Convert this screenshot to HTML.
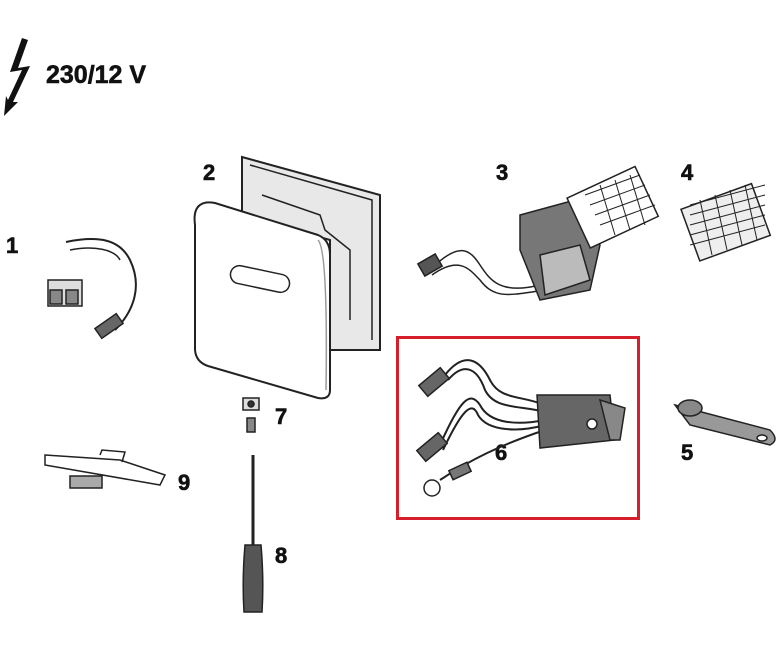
<!DOCTYPE html>
<html><head><style>
html,body{margin:0;padding:0;background:#fff}
svg{display:block}
text{font-family:"Liberation Sans",sans-serif;font-weight:bold;fill:#111}
</style></head><body>
<svg width="780" height="650" viewBox="0 0 780 650" xmlns="http://www.w3.org/2000/svg">
<polygon points="22,38 10,72 22,70 8,100 6,96 4,116 18,102 13,102 30,66 18,68 28,40" fill="#111"/>
<text x="46" y="83" font-size="25" stroke="#111" stroke-width="0.6">230/12 V</text>
<g stroke="#111" stroke-width="0.6">
<text x="6" y="253" font-size="22">1</text>
<text x="203" y="180" font-size="22">2</text>
<text x="496" y="180" font-size="22">3</text>
<text x="681" y="180" font-size="22">4</text>
<text x="681" y="460" font-size="22">5</text>
<text x="495" y="460" font-size="22">6</text>
<text x="275" y="424" font-size="22">7</text>
<text x="275" y="563" font-size="22">8</text>
<text x="178" y="490" font-size="22">9</text>
</g>
<g fill="none" stroke="#222" stroke-width="1.5">
<!-- item 1 -->
<path d="M66,242 C100,235 120,240 130,260 C142,285 135,310 115,330" stroke-width="2"/>
<path d="M70,250 C95,245 115,250 120,260"/>
<rect x="48" y="280" width="34" height="26" fill="#ddd"/>
<rect x="50" y="290" width="12" height="14" fill="#888"/><rect x="66" y="290" width="12" height="14" fill="#888"/>
<rect x="96" y="320" width="26" height="12" transform="rotate(-35 109 326)" fill="#666"/>
<!-- item 2 frame -->
<path d="M242,157 L380,195 L380,350 L330,350 L330,240 L242,215 Z" fill="#e8e8e8" stroke-width="2"/>
<path d="M250,165 L372,200 L372,340" />
<path d="M262,195 L320,215 L325,230 L350,250 L350,320" />
<!-- cover -->
<path d="M200,205 Q193,210 195,225 L195,350 Q196,362 208,366 L318,398 Q330,400 330,390 L330,255 Q330,240 318,235 L215,203 Q205,201 200,205 Z" fill="#fff" stroke-width="2"/>
<path d="M318,240 Q328,250 326,390" stroke="#999"/>
<rect x="230" y="270" width="60" height="18" rx="9" transform="rotate(12 260 279)"/>
<!-- item 3 -->
<path d="M430,270 C460,240 470,250 480,265 C490,280 500,295 540,285"/>
<path d="M432,275 C460,255 470,270 480,280 C495,300 510,295 545,290"/>
<rect x="420" y="258" width="20" height="14" fill="#555" transform="rotate(-30 430 265)"/>
<polygon points="520,215 575,200 600,245 590,290 540,300 520,250" fill="#777"/>
<polygon points="540,255 580,245 590,280 545,295" fill="#bbb"/>
<rect x="575" y="180" width="75" height="55" fill="#fff" transform="rotate(-25 612 207)"/>
<path d="M585,195 L640,175 M590,205 L645,185 M595,215 L650,195 M600,225 L655,205 M600,185 L615,235 M615,180 L630,230 M630,175 L645,225" stroke-width="1"/>
<!-- item 4 -->
<rect x="688" y="195" width="75" height="55" transform="rotate(-20 725 222)" fill="#eee"/>
<path d="M690,205 L765,185 M690,215 L765,195 M690,225 L765,205 M690,235 L765,215 M690,245 L765,225 M700,200 L712,255 M715,195 L727,250 M730,190 L742,245 M745,185 L757,240" stroke-width="1"/>
<!-- item 5 -->
<path d="M675,405 L770,430 Q780,440 770,445 L690,425 Z" fill="#999"/>
<ellipse cx="690" cy="408" rx="12" ry="8" fill="#888"/>
<ellipse cx="762" cy="438" rx="5" ry="3" fill="#fff"/>
<!-- item 6 -->
<path d="M445,375 C465,350 480,360 490,380 C500,400 520,395 545,405" stroke-width="2"/>
<path d="M448,380 C465,360 478,370 485,390 C495,410 520,405 545,412" stroke-width="2"/>
<path d="M440,445 C460,400 470,390 480,405 C490,425 520,425 545,420" stroke-width="2"/>
<path d="M443,450 C462,410 472,400 478,415 C488,432 520,432 545,425" stroke-width="2"/>
<path d="M440,480 C470,460 500,445 545,430" stroke-width="2"/>
<rect x="420" y="375" width="28" height="14" fill="#666" transform="rotate(-40 434 382)"/>
<rect x="418" y="440" width="28" height="14" fill="#666" transform="rotate(-40 432 447)"/>
<circle cx="432" cy="488" r="8" fill="#fff"/>
<rect x="450" y="466" width="20" height="10" fill="#777" transform="rotate(-25 460 471)"/>
<polygon points="537,395 610,395 615,440 540,448" fill="#666"/>
<polygon points="600,400 625,408 620,440 610,440" fill="#888"/>
<circle cx="592" cy="424" r="5" fill="#fff"/>
<!-- item 7 -->
<rect x="243" y="398" width="16" height="12" fill="#ddd"/><circle cx="251" cy="404" r="3" fill="#333"/>
<rect x="247" y="418" width="8" height="14" fill="#888"/>
<!-- item 8 -->
<line x1="253" y1="455" x2="253" y2="545" stroke-width="3"/>
<path d="M245,545 L261,545 Q264,580 262,612 L244,612 Q242,580 245,545 Z" fill="#555"/>
<!-- item 9 -->
<polygon points="45,455 120,460 165,475 160,485 45,465" fill="#fff"/>
<path d="M100,455 L102,450 L125,452 L122,462"/>
<rect x="70" y="476" width="32" height="12" fill="#aaa"/>
</g>
<rect x="397.5" y="337.5" width="241" height="181" fill="none" stroke="#d51f2b" stroke-width="3"/>
</svg>
</body></html>
